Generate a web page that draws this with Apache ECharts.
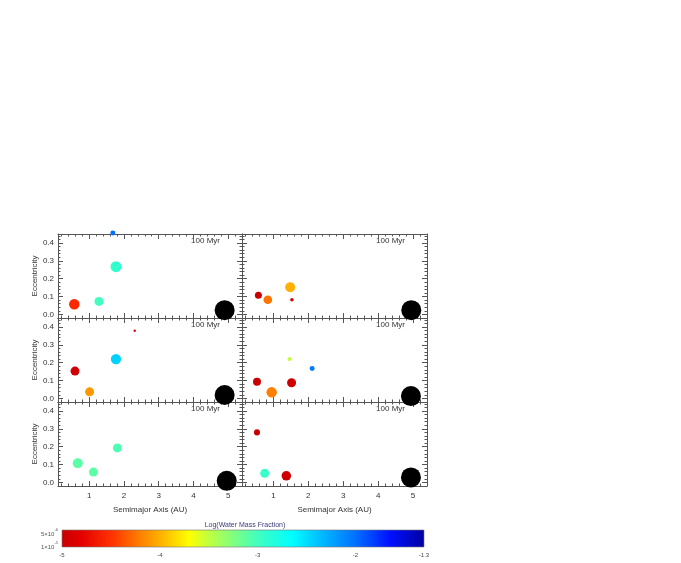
<!DOCTYPE html>
<html lang="en">
<head>
    <meta charset="UTF-8">
    <title>Water Mass Fraction</title>
    <style>
        body, html {
            margin: 0;
            padding: 0;
            width: 100%;
            height: 100%;
            background: #fff;
        }

        #main {
            width: 681px;
            height: 563px;
        }
    </style>
</head>
<body>
<div id="main"></div>
<script src="https://cdn.jsdelivr.net/npm/echarts@6/dist/echarts.min.js"></script>
<script>

    // one list per panel, panels go left->right, top->bottom
    let semimajor = [
        [1.68, 1.77, 0.57, 1.28],
        [0.57, 0.84, 1.48, 1.53],
        [2.31, 1.77, 0.59, 1.01],
        [1.46, 2.11, 0.53, 1.52, 0.95],
        [1.81, 0.67, 1.12],
        [0.53, 0.75, 1.37]
    ];
    let eccentricity = [
        [0.455, 0.267, 0.057, 0.073],
        [0.107, 0.082, 0.152, 0.082],
        [0.379, 0.220, 0.153, 0.037],
        [0.220, 0.168, 0.093, 0.088, 0.034],
        [0.193, 0.107, 0.058],
        [0.280, 0.051, 0.037]
    ];
    // Earth masses
    let massEarth = [
        [0.17, 1.8, 1.6, 1.0],
        [0.47, 0.9, 1.37, 0.06],
        [0.02, 1.5, 1.0, 1.0],
        [0.09, 0.17, 0.7, 1.0, 1.6],
        [1.0, 1.37, 1.0],
        [0.3, 1.0, 1.2]
    ];
    let logWater = [
        [-2.0, -2.92, -4.55, -3.0],
        [-5.0, -4.25, -4.0, -4.9],
        [-4.9, -2.45, -4.95, -4.1],
        [-3.5, -2.05, -5.0, -4.95, -4.2],
        [-3.05, -3.1, -3.1],
        [-5.0, -2.95, -4.95]
    ];
    let jupiterA = [4.90, 4.95, 4.90, 4.94, 4.96, 4.94];
    let jupiterE = [0.024, 0.024, 0.019, 0.013, 0.009, 0.028];

    let xTicks = [1, 2, 3, 4, 5];
    let yTicks = [0, 0.1, 0.2, 0.3, 0.4];
    let colorbarTicks = [-5, -4, -3, -2, -1.3];
    let panelLabel = '100 Myr';

    // minor tick positions
    let xMinor = [];
    for (let v = 2; v <= 53; v += 2) {
        if (v % 10 !== 0) xMinor.push(v / 10);
    }
    let yMinor = [];
    for (let v = 0; v <= 44; v += 2) {
        if (v % 10 !== 0) yMinor.push(v / 100);
    }

    let colorStops = [
        [-5.0, '#c80000'], [-4.8, '#e40000'], [-4.5, '#ff3000'], [-4.2, '#ff8000'],
        [-4.0, '#ffb000'], [-3.7, '#ffff00'], [-3.5, '#c0ff40'], [-3.25, '#80ff80'],
        [-3.0, '#40ffc0'], [-2.65, '#00ffff'], [-2.3, '#00b0ff'], [-2.0, '#0070ff'],
        [-1.65, '#0010ff'], [-1.3, '#0000a0']
    ];
    let cbMin = -5, cbMax = -1.3;

    function waterColor(v) {
        if (v <= colorStops[0][0]) return colorStops[0][1];
        for (let i = 1; i < colorStops.length; i++) {
            if (v <= colorStops[i][0]) {
                let t = (v - colorStops[i - 1][0]) / (colorStops[i][0] - colorStops[i - 1][0]);
                return echarts.color.lerp(t, [colorStops[i - 1][1], colorStops[i][1]]);
            }
        }
        return colorStops[colorStops.length - 1][1];
    }

    let font = 'Liberation Sans, Arial, sans-serif';
    let lineColor = '#555';
    let colLeft = [58, 242], colW = [184, 185];
    let rowTop = [234, 318, 402], rowH = 84;

    let grids = [], xAxes = [], yAxes = [], series = [], graphics = [];

    function xAxisDef(i, pos, major, withLabel) {
        return {
            gridIndex: i, type: 'value', min: 0.1, max: 5.4, position: pos,
            axisLine: {show: major, onZero: false, lineStyle: {color: lineColor, width: 1}},
            axisTick: {show: true, inside: true, length: major ? 5 : 2.5,
                customValues: major ? xTicks : xMinor, lineStyle: {color: lineColor}},
            axisLabel: {show: withLabel, customValues: xTicks, margin: 6,
                fontSize: 8, color: '#333', fontFamily: font},
            splitLine: {show: false},
            name: withLabel ? 'Semimajor Axis (AU)' : '',
            nameLocation: 'middle', nameGap: 20,
            nameTextStyle: {fontSize: 8, color: '#333', fontFamily: font}
        };
    }

    function yAxisDef(i, pos, major, withLabel) {
        return {
            gridIndex: i, type: 'value', min: -0.02, max: 0.45, position: pos,
            axisLine: {show: major, onZero: false, lineStyle: {color: lineColor, width: 1}},
            axisTick: {show: true, inside: true, length: major ? 5 : 2.5,
                customValues: major ? yTicks : yMinor, lineStyle: {color: lineColor}},
            axisLabel: {show: withLabel, customValues: yTicks, margin: 4,
                fontSize: 8, color: '#333', fontFamily: font,
                formatter: v => v.toFixed(1)},
            splitLine: {show: false},
            name: withLabel ? 'Eccentricity' : '',
            nameLocation: 'middle', nameGap: 19, nameRotate: 90,
            nameTextStyle: {fontSize: 8, color: '#333', fontFamily: font}
        };
    }

    for (let i = 0; i < 6; i++) {
        let r = Math.floor(i / 2), c = i % 2;
        grids.push({left: colLeft[c], top: rowTop[r], width: colW[c], height: rowH});

        xAxes.push(xAxisDef(i, 'bottom', true, r === 2));
        xAxes.push(xAxisDef(i, 'bottom', false, false));
        xAxes.push(xAxisDef(i, 'top', true, false));
        xAxes.push(xAxisDef(i, 'top', false, false));
        yAxes.push(yAxisDef(i, 'left', true, c === 0));
        yAxes.push(yAxisDef(i, 'left', false, false));
        yAxes.push(yAxisDef(i, 'right', true, false));
        yAxes.push(yAxisDef(i, 'right', false, false));

        let pts = [];
        for (let k = 0; k < semimajor[i].length; k++) {
            pts.push({
                value: [semimajor[i][k], eccentricity[i][k], massEarth[i][k], logWater[i][k]],
                itemStyle: {color: waterColor(logWater[i][k])}
            });
        }
        series.push({
            type: 'scatter', xAxisIndex: i * 4, yAxisIndex: i * 4, clip: false,
            data: pts,
            symbolSize: d => 9 * Math.cbrt(d[2]),
            itemStyle: {opacity: 1}
        });
        series.push({
            type: 'scatter', xAxisIndex: i * 4, yAxisIndex: i * 4, clip: false,
            data: [[jupiterA[i], jupiterE[i]]],
            symbolSize: 20,
            itemStyle: {color: '#000', opacity: 1}
        });

        graphics.push({
            type: 'text', x: colLeft[c] + colW[c] - 22, y: rowTop[r] + 3,
            style: {text: panelLabel, textAlign: 'right', fontSize: 8, fill: '#333', fontFamily: font}
        });
    }

    // colour bar
    grids.push({left: 62, top: 530, width: 362, height: 17});
    xAxes.push({
        gridIndex: 6, type: 'value', min: cbMin, max: cbMax, position: 'bottom',
        axisLine: {show: false, onZero: false},
        axisTick: {show: true, inside: true, length: 17, customValues: [-4, -3, -2],
            lineStyle: {color: 'rgba(90,90,90,0.35)'}},
        axisLabel: {show: true, customValues: colorbarTicks, margin: 5,
            fontSize: 6, color: '#444', fontFamily: font,
            formatter: v => (Math.abs(v - -1.3) < 1e-6 ? '-1.3' : String(v))},
        splitLine: {show: false}
    });
    yAxes.push({gridIndex: 6, type: 'value', min: 0, max: 1, show: false});

    let gradStops = colorStops.map(s => ({offset: (s[0] - cbMin) / (cbMax - cbMin), color: s[1]}));
    series.push({
        type: 'custom', xAxisIndex: 24, yAxisIndex: 24, z: 1,
        data: [[cbMin, cbMax]],
        renderItem: function (params, api) {
            let p0 = api.coord([api.value(0), 0]);
            let p1 = api.coord([api.value(1), 1]);
            return {
                type: 'rect',
                shape: {x: p0[0], y: p1[1], width: p1[0] - p0[0], height: p0[1] - p1[1]},
                style: {
                    fill: new echarts.graphic.LinearGradient(0, 0, 1, 0, gradStops),
                    stroke: '#777', lineWidth: 0.6
                }
            };
        }
    });

    graphics.push({
        type: 'text', x: 245, y: 522,
        style: {text: 'Log(Water Mass Fraction)', textAlign: 'center', fontSize: 7,
            fill: '#3a3a7a', fontFamily: font}
    });
    graphics.push({
        type: 'text', x: 58, y: 528,
        style: {
            text: '5×10{s|-6}\n1×10{s|-5}', textAlign: 'right', fontSize: 6, lineHeight: 13,
            fill: '#555', fontFamily: font,
            rich: {s: {fontSize: 4, verticalAlign: 'top', fill: '#555', fontFamily: font}}
        }
    });

    let myChart = echarts.init(document.getElementById('main'));
    myChart.setOption({
        animation: false,
        grid: grids,
        xAxis: xAxes,
        yAxis: yAxes,
        series: series,
        graphic: graphics
    });

</script>
</body>
</html>
